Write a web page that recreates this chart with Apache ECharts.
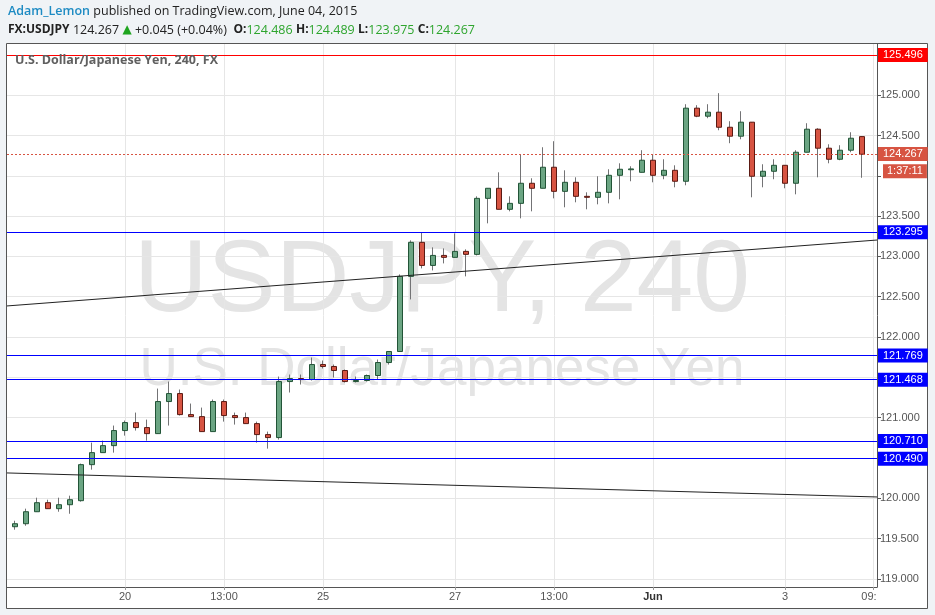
<!DOCTYPE html>
<html><head><meta charset="utf-8">
<script src="https://cdn.jsdelivr.net/npm/echarts@6/dist/echarts.min.js"></script>
<style>html,body{margin:0;padding:0;background:#f0f3f6;}#c{width:935px;height:615px;}</style>
</head><body><div id="c"></div>
<script>
// ---- data (USDJPY, 4H candles) ----
const opens = [119.596,119.646,119.683,119.832,119.944,119.870,119.919,119.969,120.416,120.565,
 120.652,120.839,120.938,120.876,120.801,121.199,121.298,121.037,121.012,120.826,
 121.199,121.025,121.000,120.925,120.789,120.752,121.447,121.484,121.472,121.658,
 121.634,121.584,121.447,121.460,121.522,121.683,121.820,122.752,123.174,122.888,
 123.012,122.988,123.062,123.025,123.720,123.845,123.584,123.658,123.907,123.845,
 124.106,123.807,123.919,123.745,123.733,123.795,124.006,124.075,124.043,124.193,
 124.006,124.068,123.932,124.839,124.739,124.789,124.602,124.491,124.665,123.994,
 124.056,124.130,123.907,124.292,124.578,124.342,124.205,124.317,124.486];
const closes = [119.646,119.683,119.832,119.944,119.870,119.919,119.981,120.416,120.565,120.652,
 120.839,120.938,120.876,120.801,121.199,121.298,121.037,121.012,120.826,121.199,
 121.025,121.000,120.925,120.789,120.752,121.447,121.484,121.472,121.658,121.634,
 121.584,121.447,121.460,121.522,121.683,121.820,122.752,123.174,122.888,123.012,
 122.988,123.062,123.025,123.720,123.845,123.584,123.658,123.907,123.845,124.106,
 123.807,123.919,123.745,123.733,123.795,124.006,124.081,124.085,124.193,124.006,
 124.068,123.932,124.839,124.739,124.789,124.602,124.491,124.665,123.994,124.056,
 124.130,123.907,124.292,124.578,124.342,124.205,124.317,124.466,124.267];
const lows = [119.580,119.609,119.658,119.832,119.870,119.832,119.807,119.957,120.354,120.565,
 120.565,120.776,120.839,120.714,120.801,120.901,121.025,121.012,120.826,120.826,
 120.950,120.913,120.925,120.689,120.615,120.727,121.311,121.410,121.460,121.609,
 121.497,121.435,121.435,121.447,121.472,121.658,121.820,122.466,122.851,122.826,
 122.913,122.988,122.752,123.012,123.410,123.584,123.559,123.472,123.559,123.845,
 123.720,123.609,123.671,123.584,123.646,123.658,123.708,123.932,124.043,123.919,
 123.957,123.857,123.882,124.727,124.714,124.565,124.404,124.453,123.733,123.857,
 123.957,123.845,123.770,124.292,123.981,124.155,124.193,124.292,123.975];
const highs = [119.660,119.720,119.870,120.006,119.981,120.006,120.031,120.429,120.689,120.714,
 120.901,120.963,121.062,120.975,121.360,121.447,121.348,121.174,121.124,121.224,
 121.224,121.062,121.062,120.950,120.826,121.509,121.534,121.534,121.745,121.708,
 121.658,121.596,121.509,121.534,121.720,121.820,122.776,123.199,123.298,123.112,
 123.099,123.286,123.087,123.745,123.845,124.043,123.745,124.267,123.969,124.354,
 124.429,124.068,123.981,123.795,123.994,124.081,124.155,124.118,124.317,124.267,
 124.205,124.130,124.888,124.876,124.888,125.025,124.677,124.801,124.665,124.143,
 124.205,124.130,124.317,124.652,124.590,124.391,124.379,124.540,124.489];

const xTickIndex = [11, 20, 29, 41, 50, 59, 71, 79];
const xTickLabels = ['20', '13:00', '25', '27', '13:00', 'Jun', '3', '09:'];
const yTickValues = [119, 119.5, 120, 120.5, 121, 121.5, 122, 122.5, 123, 123.5, 124, 124.5, 125];
const yLabelValues = [119, 119.5, 120, 121, 122, 122.5, 123, 123.5, 124.5, 125];
const levelPrices = [125.496, 123.295, 121.769, 121.468, 120.710, 120.490];
const levelColors = ['#ff0000', '#0000ff', '#0000ff', '#0000ff', '#0000ff', '#0000ff'];
const lastPrice = 124.267;
const countdown = '1:37:11';
const trendUpper = [[0.2727, 122.385], [79.364, 123.203]];
const trendLower = [[0.2727, 120.313], [79.364, 120.015]];
const xMin = 0.2727, xMax = 79.364, yMin = 118.898, yMax = 125.635;

// ---- build ----
const wickData = opens.map((o, i) => [i, o, closes[i], lows[i], highs[i]]);
const bodyData = opens.map((o, i) => [i, o, closes[i], Math.min(o, closes[i]), Math.max(o, closes[i])]);

const FONT = 'Liberation Sans, Arial, sans-serif';
const levelLines = levelPrices.map((p, k) => ({
  yAxis: p,
  lineStyle: { color: levelColors[k], width: 1, type: 'solid', opacity: 1 },
  label: { show: true, position: 'end', distance: 1, formatter: p.toFixed(3), color: '#fff',
    backgroundColor: levelColors[k], padding: [2, 5, 1, 5], fontSize: 11, fontFamily: FONT }
}));
levelLines.push({
  yAxis: lastPrice,
  lineStyle: { color: '#d75442', width: 1, type: [2, 2] },
  label: { show: true, position: 'end', distance: 1, formatter: lastPrice.toFixed(3), color: '#fff',
    backgroundColor: '#d75442', padding: [2, 5, 1, 5], fontSize: 11, fontFamily: FONT }
});
const trendLines = [trendUpper, trendLower].map(t => [
  { coord: t[0], lineStyle: { color: '#222', width: 1, type: 'solid' }, label: { show: false } },
  { coord: t[1] }
]);

const chart = echarts.init(document.getElementById('c'), null, { renderer: 'canvas' });
chart.setOption({
  backgroundColor: '#f0f3f6',
  animation: false,
  grid: { left: 7, right: 58, top: 44, bottom: 28 },
  xAxis: {
    type: 'value', min: xMin, max: xMax,
    axisLine: { show: true, lineStyle: { color: '#555', width: 1 } },
    axisTick: { show: true, length: 3, customValues: xTickIndex, lineStyle: { color: '#999' } },
    axisLabel: {
      customValues: xTickIndex, color: '#555', fontSize: 11, fontFamily: FONT, margin: 4,
      formatter: v => {
        const k = xTickIndex.indexOf(Math.round(v));
        const t = k >= 0 ? xTickLabels[k] : '';
        if (t === 'Jun') return '{b|Jun}';
        if (k === xTickIndex.length - 1) return '{r|' + t + '}';
        return t;
      },
      rich: {
        b: { fontWeight: 'bold', color: '#333', fontSize: 11, fontFamily: FONT },
        r: { color: '#555', fontSize: 11, fontFamily: FONT, padding: [0, 8, 0, 0] }
      }
    },
    splitLine: { show: true, lineStyle: { color: '#e6e6e6', width: 1 } }
  },
  yAxis: {
    type: 'value', position: 'right', min: yMin, max: yMax, scale: true,
    axisLine: { show: true, lineStyle: { color: '#555', width: 1 } },
    axisTick: { show: true, length: 4, customValues: yTickValues, lineStyle: { color: '#555' } },
    axisLabel: { customValues: yLabelValues, color: '#555', fontSize: 11, fontFamily: FONT, margin: 3,
      formatter: v => v.toFixed(3) },
    splitLine: { show: true, lineStyle: { color: '#e6e6e6', width: 1 } }
  },
  graphic: [
    { type: 'rect', z: -20, shape: { x: 6.5, y: 43.5, width: 921, height: 565 },
      style: { fill: '#ffffff', stroke: '#555555', lineWidth: 1 } },
    { type: 'text', z: -10, x: 442, y: 283,
      style: { text: 'USDJPY, 240', fill: '#e4e4e4', font: '102px "Liberation Sans", Arial, sans-serif',
        align: 'center', verticalAlign: 'middle' } },
    { type: 'text', z: -10, x: 442, y: 370,
      style: { text: 'U.S. Dollar/Japanese Yen', fill: '#e4e4e4', font: '53px "Liberation Sans", Arial, sans-serif',
        align: 'center', verticalAlign: 'middle' } },
    { type: 'text', z: 10, x: 15, y: 60,
      style: { text: 'U.S. Dollar/Japanese Yen, 240, FX', fill: '#606060',
        font: 'bold 12.5px "Open Sans", sans-serif', verticalAlign: 'middle' } },
    { type: 'text', z: 10, x: 8, y: 11,
      style: { text: '{u|Adam_Lemon} {p|published on TradingView.com, June 04, 2015}', verticalAlign: 'middle',
        rich: {
          u: { fill: '#1e8bc3', font: '600 12.5px "Open Sans", sans-serif' },
          p: { fill: '#222', font: '12.5px "Open Sans", sans-serif' }
        } } },
    { type: 'text', z: 10, x: 8, y: 30,
      style: { text: '{b|FX:USDJPY} {n|124.267} {g|▲} {n|+0.045 (+0.04%)}  {b|O:}{v|124.486} {b|H:}{v|124.489} {b|L:}{v|123.975} {b|C:}{v|124.267}',
        verticalAlign: 'middle',
        rich: {
          b: { fill: '#222', font: 'bold 12px "Open Sans", sans-serif' },
          n: { fill: '#222', font: '12.5px "Open Sans", sans-serif' },
          g: { fill: '#1fa51f', font: '12px "DejaVu Sans", sans-serif' },
          v: { fill: '#2ea52e', font: '12.5px "Open Sans", sans-serif' }
        } } }
  ],
  series: [
    {
      name: 'wick', type: 'candlestick', data: wickData, encode: { x: 0, y: [1, 2, 3, 4] },
      barWidth: 0, clip: true, silent: true, z: 2,
      itemStyle: { color: '#737375', color0: '#737375', borderColor: '#737375', borderColor0: '#737375', borderWidth: 1 }
    },
    {
      name: 'body', type: 'candlestick', data: bodyData, encode: { x: 0, y: [1, 2, 3, 4] },
      barWidth: 6, clip: true, silent: true, z: 3,
      itemStyle: { color: '#6ba583', color0: '#d75442', borderColor: '#225437', borderColor0: '#5b1a13', borderWidth: 1 },
      markLine: { silent: true, symbol: ['none', 'none'], animation: false, data: levelLines.concat(trendLines) },
      markPoint: {
        silent: true, animation: false,
        data: [{ coord: [xMax, lastPrice], symbol: 'rect', symbolSize: 0.01,
          label: { show: true, position: 'right', distance: 6, offset: [0, 17], formatter: countdown,
            color: '#fff', backgroundColor: '#d75442', padding: [2, 4, 1, 4], fontSize: 11, fontFamily: FONT } }]
      }
    }
  ]
});
</script></body></html>
